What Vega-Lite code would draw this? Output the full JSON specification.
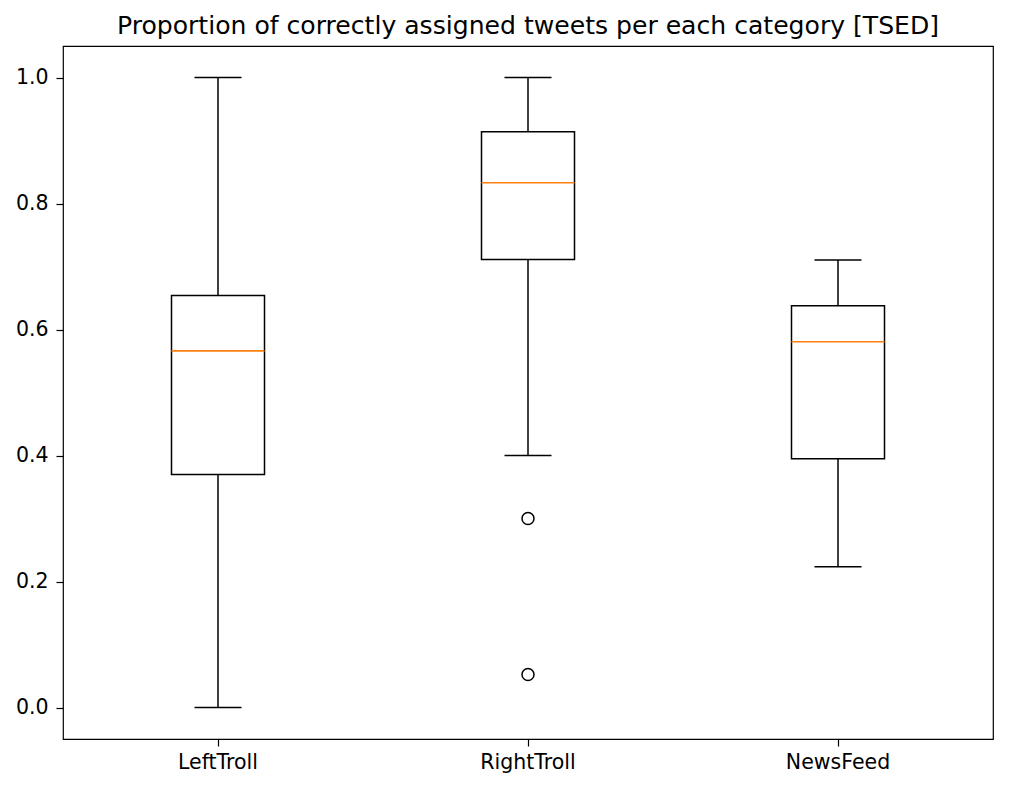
{
  "$schema": "https://vega.github.io/schema/vega-lite/v6.json",
  "width": 930,
  "height": 693,
  "autosize": {"type": "none"},
  "padding": {"left": 63, "top": 46, "right": 23, "bottom": 51},
  "background": "white",
  "config": {
    "font": "DejaVu Sans",
    "view": {"stroke": "black", "strokeWidth": 1.2},
    "axis": {
      "grid": false,
      "domain": false,
      "tickColor": "black",
      "tickWidth": 1.2,
      "tickSize": 7,
      "labelFont": "DejaVu Sans",
      "labelFontSize": 20.5,
      "labelColor": "black",
      "title": null
    },
    "axisY": {"labelPadding": 8},
    "axisX": {"labelPadding": 6}
  },
  "title": {
    "text": "Proportion of correctly assigned tweets per each category [TSED]",
    "font": "DejaVu Sans",
    "fontSize": 25.1,
    "fontWeight": "normal",
    "color": "black",
    "anchor": "middle",
    "offset": 7
  },
  "datasets": {
    "boxes": [
      {"category": "LeftTroll", "lower": 0.0, "q1": 0.370, "median": 0.566, "q3": 0.654, "upper": 1.0},
      {"category": "RightTroll", "lower": 0.4, "q1": 0.711, "median": 0.833, "q3": 0.914, "upper": 1.0},
      {"category": "NewsFeed", "lower": 0.2233, "q1": 0.3947, "median": 0.5805, "q3": 0.6376, "upper": 0.7105}
    ],
    "outliers": [
      {"category": "RightTroll", "value": 0.300},
      {"category": "RightTroll", "value": 0.0524}
    ]
  },
  "encoding": {
    "x": {
      "field": "category",
      "type": "nominal",
      "sort": ["LeftTroll", "RightTroll", "NewsFeed"],
      "scale": {"paddingInner": 0, "paddingOuter": 0},
      "axis": {"labelAngle": 0}
    }
  },
  "layer": [
    {
      "data": {"name": "boxes"},
      "mark": {"type": "rule", "color": "black", "strokeWidth": 1.5},
      "encoding": {
        "y": {"field": "lower", "type": "quantitative", "scale": {"domain": [-0.05, 1.05], "nice": false, "zero": false},
          "axis": {"values": [0, 0.2, 0.4, 0.6, 0.8, 1.0], "format": ".1f"}},
        "y2": {"field": "q1"}
      }
    },
    {
      "data": {"name": "boxes"},
      "mark": {"type": "rule", "color": "black", "strokeWidth": 1.5},
      "encoding": {
        "y": {"field": "q3", "type": "quantitative"},
        "y2": {"field": "upper"}
      }
    },
    {
      "data": {"name": "boxes"},
      "mark": {"type": "bar", "fill": "white", "stroke": "black", "strokeWidth": 1.5, "width": {"band": 0.3}},
      "encoding": {
        "y": {"field": "q1", "type": "quantitative"},
        "y2": {"field": "q3"}
      }
    },
    {
      "data": {"name": "boxes"},
      "mark": {"type": "tick", "color": "black", "size": 47, "thickness": 1.5, "opacity": 1},
      "encoding": {
        "y": {"field": "lower", "type": "quantitative"}
      }
    },
    {
      "data": {"name": "boxes"},
      "mark": {"type": "tick", "color": "black", "size": 47, "thickness": 1.5, "opacity": 1},
      "encoding": {
        "y": {"field": "upper", "type": "quantitative"}
      }
    },
    {
      "data": {"name": "boxes"},
      "mark": {"type": "tick", "color": "#ff7f0e", "size": 93, "thickness": 1.6, "opacity": 1},
      "encoding": {
        "y": {"field": "median", "type": "quantitative"}
      }
    },
    {
      "data": {"name": "outliers"},
      "mark": {"type": "point", "shape": "circle", "filled": false, "stroke": "black", "strokeWidth": 1.5, "size": 144, "opacity": 1},
      "encoding": {
        "y": {"field": "value", "type": "quantitative"}
      }
    }
  ]
}
